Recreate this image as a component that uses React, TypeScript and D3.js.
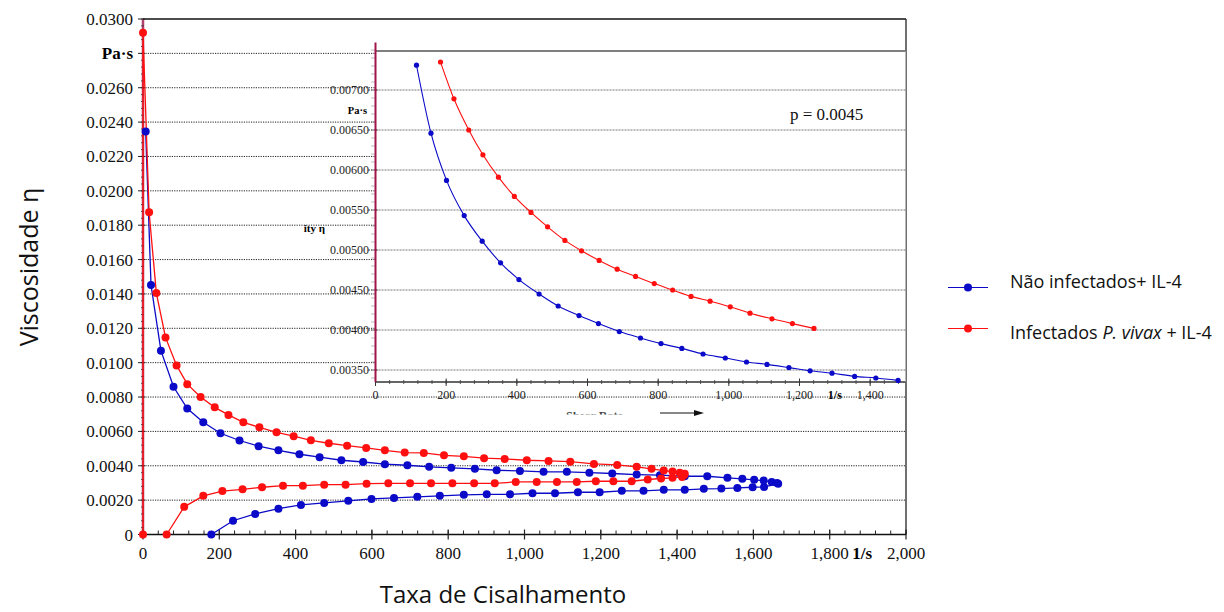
import React from "react";
import * as d3 from "d3";

// main chart: shear rate (1/s) vs viscosity (Pa·s), hysteresis loops
const mainBlue: [number, number][] = [
  [7, 0.02345], [21, 0.01452], [47, 0.0107], [80, 0.0086], [116, 0.00733], [158, 0.00653],
  [203, 0.00589], [253, 0.00547], [303, 0.00514], [355, 0.0049], [410, 0.00467], [463, 0.0045],
  [520, 0.00432], [577, 0.00422], [634, 0.00409], [693, 0.00403], [750, 0.00394], [808, 0.00388],
  [870, 0.00382], [927, 0.00374], [988, 0.0037], [1050, 0.00365], [1111, 0.00365], [1170, 0.0036],
  [1230, 0.00355], [1294, 0.00349], [1355, 0.00345], [1420, 0.00339], [1479, 0.00339], [1532, 0.0033],
  [1571, 0.00324], [1602, 0.00318], [1627, 0.00314], [1648, 0.00306], [1662, 0.003], [1665, 0.00295],
  [1628, 0.00277], [1598, 0.00275], [1558, 0.00271], [1516, 0.00267], [1470, 0.00266], [1420, 0.0026],
  [1365, 0.0026], [1312, 0.00254], [1255, 0.00254], [1197, 0.00246], [1140, 0.00246], [1080, 0.0024],
  [1021, 0.0024], [962, 0.00234], [901, 0.00234], [841, 0.00231], [778, 0.00225], [719, 0.00219],
  [658, 0.00213], [599, 0.00207], [538, 0.00196], [475, 0.00184], [414, 0.00172], [355, 0.0015],
  [294, 0.0012], [236, 0.0008], [179, 0],
];

const mainRed: [number, number][] = [
  [0, 0], [0, 0.0292], [16, 0.01876], [35, 0.01405], [59, 0.01147], [88, 0.00984], [116, 0.00875],
  [151, 0.008], [188, 0.0074], [224, 0.00696], [263, 0.00653], [305, 0.00624], [350, 0.00595],
  [395, 0.00572], [440, 0.00548], [487, 0.00531], [535, 0.00517], [585, 0.00504], [634, 0.0049],
  [686, 0.00477], [736, 0.00475], [789, 0.00461], [841, 0.00455], [894, 0.00444], [948, 0.0044],
  [1006, 0.00432], [1063, 0.00428], [1120, 0.00424], [1182, 0.00411], [1243, 0.00405], [1294, 0.00394],
  [1333, 0.00382], [1365, 0.00372], [1388, 0.00366], [1407, 0.0036], [1420, 0.00353], [1418, 0.00345],
  [1413, 0.00335], [1388, 0.0033], [1358, 0.00326], [1323, 0.0032], [1281, 0.0031], [1233, 0.0031],
  [1187, 0.0031], [1137, 0.00306], [1085, 0.00306], [1032, 0.00306], [977, 0.00306], [922, 0.00298],
  [868, 0.00298], [811, 0.00298], [755, 0.00298], [700, 0.00298], [643, 0.00298], [586, 0.00296],
  [531, 0.0029], [475, 0.0029], [419, 0.00284], [367, 0.00284], [312, 0.00275], [261, 0.00263],
  [208, 0.00253], [158, 0.00225], [108, 0.00161], [62, 0],
];

// inset chart (ramp-up only)
const insetBlue: [number, number][] = [
  [116, 0.00731], [157, 0.00646], [201, 0.00587], [251, 0.00543], [302, 0.00511], [354, 0.00484],
  [406, 0.00463], [463, 0.00445], [517, 0.0043], [576, 0.00418], [631, 0.00408], [690, 0.00398],
  [750, 0.0039], [808, 0.00383], [867, 0.00377], [927, 0.0037], [990, 0.00365], [1050, 0.0036],
  [1108, 0.00357], [1170, 0.00353], [1230, 0.00349], [1292, 0.00346], [1356, 0.00342], [1416, 0.0034],
  [1479, 0.00337],
];

const insetRed: [number, number][] = [
  [184, 0.00735], [222, 0.00689], [264, 0.0065], [304, 0.00619], [348, 0.00591], [393, 0.00567],
  [440, 0.00547], [487, 0.00529], [536, 0.00512], [583, 0.00499], [633, 0.00487], [684, 0.00476],
  [736, 0.00467], [789, 0.00458], [841, 0.0045], [893, 0.00442], [947, 0.00436], [1004, 0.00429],
  [1060, 0.00421], [1122, 0.00414], [1180, 0.00408], [1241, 0.00402],
];

const mainYTicks = [0, 0.002, 0.004, 0.006, 0.008, 0.01, 0.012, 0.014, 0.016, 0.018, 0.02, 0.022, 0.024, 0.026, 0.028, 0.03];
const mainXTicks = [0, 200, 400, 600, 800, 1000, 1200, 1400, 1600, 1800, 2000];
const insetYTicks = [0.0035, 0.004, 0.0045, 0.005, 0.0055, 0.006, 0.0065, 0.007];
const insetXTicks = [0, 200, 400, 600, 800, 1000, 1200, 1400];

const seriesNames = ["Não infectados+ IL-4", "Infectados P. vivax + IL-4"];
const BLUE = "#0a0ac8";
const RED = "#ff1010";
const MAROON = "#a0154a";
const SERIF = "'Liberation Serif', 'Times New Roman', serif";
const SANS = "'Open Sans', sans-serif";

export default function App() {
  const x = d3.scaleLinear().domain([0, 2000]).range([143, 906]);
  const y = d3.scaleLinear().domain([0, 0.03]).range([534.5, 19]);
  const ix = d3.scaleLinear().domain([0, 1500]).range([375.5, 905.5]);
  const iy = d3.scaleLinear().domain([0.00335, 0.0075]).range([382, 50]);

  const mainLine = d3.line<[number, number]>().x((d) => x(d[0])).y((d) => y(d[1]));
  const insetLine = d3
    .line<[number, number]>()
    .x((d) => ix(d[0]))
    .y((d) => iy(d[1]))
    .curve(d3.curveMonotoneX);

  const fmtMain = (v: number) => (v === 0 ? "0" : d3.format(".4f")(v));
  const fmtInset = d3.format(".5f");
  const fmtX = d3.format(",");

  const minorY = d3.range(0, 0.0300001, 0.0004);
  const minorX = d3.range(0, 2000.1, 40);
  const minorIY = d3.range(0.0034, 0.00751, 0.0001);
  const minorIX = d3.range(0, 1500.1, 40);

  return (
    <svg width={1224} height={612} style={{ position: "absolute", left: 0, top: 0, background: "#fff" }}>
      <defs>
        <clipPath id="shearClip">
          <rect x={540} y={412} width={130} height={2.5} />
        </clipPath>
      </defs>

      {/* main gridlines */}
      {mainYTicks.slice(1, -1).map((t) => (
        <line key={"g" + t} x1={x(0)} x2={x(2000)} y1={y(t)} y2={y(t)} stroke="#222" strokeWidth={1} strokeDasharray="1.2,1.2" />
      ))}
      {/* frame */}
      <line x1={x(0)} x2={x(2000)} y1={y(0.03)} y2={y(0.03)} stroke="#111" strokeWidth={1.5} />
      <line x1={x(2000)} x2={x(2000)} y1={y(0.03)} y2={y(0)} stroke="#111" strokeWidth={1.2} />
      <line x1={x(0)} x2={x(2000)} y1={y(0)} y2={y(0)} stroke="#111" strokeWidth={1.4} />

      {/* main y axis */}
      <line x1={x(0)} x2={x(0)} y1={y(0.03)} y2={y(0)} stroke={MAROON} strokeWidth={2.5} opacity={0.8} />
      {minorY.map((t) => (
        <line key={"my" + t} x1={x(0) - 2} x2={x(0) + 1} y1={y(t)} y2={y(t)} stroke="#333" strokeWidth={0.8} />
      ))}
      {mainYTicks.map((t) => (
        <line key={"My" + t} x1={x(0) - 5} x2={x(0) + 2} y1={y(t)} y2={y(t)} stroke="#222" strokeWidth={1} />
      ))}
      {mainYTicks.map((t) =>
        t === 0.028 ? (
          <text key={"ly" + t} x={133} y={y(t) + 6} textAnchor="end" fontFamily={SERIF} fontSize={17} fontWeight="bold">
            Pa·s
          </text>
        ) : (
          <text key={"ly" + t} x={133} y={y(t) + 6} textAnchor="end" fontFamily={SERIF} fontSize={17} fill="#111">
            {fmtMain(t)}
          </text>
        )
      )}

      {/* main x axis */}
      {minorX.map((t) => (
        <line key={"mx" + t} x1={x(t)} x2={x(t)} y1={y(0) - 4} y2={y(0)} stroke="#222" strokeWidth={1} />
      ))}
      {mainXTicks.map((t) => (
        <line key={"Mx" + t} x1={x(t)} x2={x(t)} y1={y(0) - 5} y2={y(0) + 5} stroke="#222" strokeWidth={1.2} />
      ))}
      {mainXTicks.map((t) => (
        <text key={"lx" + t} x={x(t)} y={559} textAnchor="middle" fontFamily={SERIF} fontSize={17} fill="#111">
          {fmtX(t)}
        </text>
      ))}
      <text x={x(1885)} y={559} textAnchor="middle" fontFamily={SERIF} fontSize={17} fontWeight="bold">
        1/s
      </text>

      {/* main series */}
      <path d={mainLine(mainBlue) || ""} fill="none" stroke={BLUE} strokeWidth={1.3} />
      <path d={mainLine(mainRed) || ""} fill="none" stroke={RED} strokeWidth={1.3} />
      {mainBlue.map((d, i) => (
        <circle key={"mb" + i} cx={x(d[0])} cy={y(d[1])} r={4} fill={BLUE} />
      ))}
      {mainRed.map((d, i) => (
        <circle key={"mr" + i} cx={x(d[0])} cy={y(d[1])} r={4} fill={RED} />
      ))}

      {/* inset */}
      <rect x={ix(0)} y={51} width={ix(1500) - ix(0)} height={iy(0.00335) - 51} fill="#fff" />
      {insetYTicks.map((t) => (
        <line key={"ig" + t} x1={ix(0)} x2={ix(1500)} y1={iy(t)} y2={iy(t)} stroke="#777" strokeWidth={1} strokeDasharray="2,1" />
      ))}
      <line x1={ix(0)} x2={ix(1500)} y1={51} y2={51} stroke="#555" strokeWidth={1.5} />
      <line x1={ix(0)} x2={ix(1500)} y1={iy(0.00335)} y2={iy(0.00335)} stroke="#333" strokeWidth={1.3} />
      {minorIY.map((t) => (
        <line key={"imy" + t} x1={ix(0) - 4} x2={ix(0) - 1} y1={iy(t)} y2={iy(t)} stroke="#555" strokeWidth={0.8} strokeDasharray="1,1" />
      ))}
      {insetYTicks.map((t) => (
        <line key={"iMy" + t} x1={ix(0) - 7} x2={ix(0) + 2} y1={iy(t)} y2={iy(t)} stroke="#333" strokeWidth={1} strokeDasharray="1.5,1" />
      ))}
      {insetYTicks.map((t) => (
        <text key={"ily" + t} x={369} y={iy(t) + 4} textAnchor="end" fontFamily={SERIF} fontSize={12} fill="#222">
          {fmtInset(t)}
        </text>
      ))}
      <text x={367} y={114} textAnchor="end" fontFamily={SERIF} fontSize={10.5} fontWeight="bold">
        Pa·s
      </text>
      <text x={325} y={232} textAnchor="end" fontFamily={SERIF} fontSize={11} fontWeight="bold">
        ity η
      </text>
      {minorIX.map((t) => (
        <line key={"imx" + t} x1={ix(t)} x2={ix(t)} y1={iy(0.00335) - 2} y2={iy(0.00335) + 2} stroke="#444" strokeWidth={0.9} />
      ))}
      {insetXTicks.map((t) => (
        <line key={"iMx" + t} x1={ix(t)} x2={ix(t)} y1={iy(0.00335) - 3.5} y2={iy(0.00335) + 4} stroke="#333" strokeWidth={1} />
      ))}
      {insetXTicks.map((t) => (
        <text key={"ilx" + t} x={ix(t)} y={399} textAnchor="middle" fontFamily={SERIF} fontSize={12} fill="#222">
          {fmtX(t)}
        </text>
      ))}
      <text x={ix(1300)} y={399} textAnchor="middle" fontFamily={SERIF} fontSize={12} fontWeight="bold">
        1/s
      </text>
      <line x1={ix(0)} x2={ix(0)} y1={42.5} y2={iy(0.00335)} stroke={MAROON} strokeWidth={2} />
      <text x={790} y={120} fontFamily={SERIF} fontSize={17} fill="#111">
        p = 0.0045
      </text>
      {/* clipped inset x title with arrow */}
      <text x={566} y={420} fontFamily={SERIF} fontSize={12} fontWeight="bold" fill="#444" clipPath="url(#shearClip)">
        Shear Rate
      </text>
      <line x1={660} x2={696} y1={413} y2={413} stroke="#111" strokeWidth={1.2} />
      <polygon points="694,410 704,413 694,416" fill="#111" />

      <path d={insetLine(insetBlue) || ""} fill="none" stroke={BLUE} strokeWidth={1.1} />
      <path d={insetLine(insetRed) || ""} fill="none" stroke={RED} strokeWidth={1.1} />
      {insetBlue.map((d, i) => (
        <circle key={"ib" + i} cx={ix(d[0])} cy={iy(d[1])} r={2.6} fill={BLUE} />
      ))}
      {insetRed.map((d, i) => (
        <circle key={"ir" + i} cx={ix(d[0])} cy={iy(d[1])} r={2.6} fill={RED} />
      ))}

      {/* axis titles */}
      <text transform="translate(38,267) rotate(-90)" textAnchor="middle" fontFamily={SANS} fontSize={25} fill="#111">
        Viscosidade η
      </text>
      <text x={503} y={603} textAnchor="middle" fontFamily={SANS} fontSize={24} fill="#111">
        Taxa de Cisalhamento
      </text>

      {/* legend */}
      <line x1={948} x2={988} y1={287.5} y2={287.5} stroke={BLUE} strokeWidth={1.2} />
      <circle cx={968} cy={287.5} r={4} fill={BLUE} />
      <text x={1010} y={288} fontFamily={SANS} fontSize={18} fill="#111">
        {seriesNames[0]}
      </text>
      <line x1={948} x2={988} y1={328.5} y2={328.5} stroke={RED} strokeWidth={1.2} />
      <circle cx={968} cy={328.5} r={4} fill={RED} />
      <text x={1010} y={339} fontFamily={SANS} fontSize={18} fill="#111">
        Infectados <tspan fontStyle="italic">P. vivax</tspan> + IL-4
      </text>
    </svg>
  );
}
